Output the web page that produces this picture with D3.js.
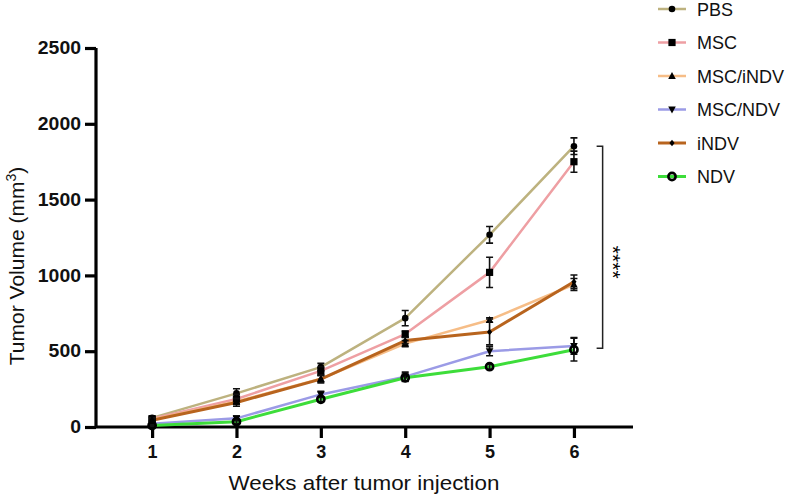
<!DOCTYPE html>
<html><head><meta charset="utf-8">
<script src="https://cdn.jsdelivr.net/npm/d3@7"></script>
<style>
html,body{margin:0;padding:0;background:#fff;}
svg{display:block;font-family:"Liberation Sans",Arial,sans-serif;}
</style></head>
<body><svg id="chart" width="787" height="496"></svg>
<script>
const weeks = [1, 2, 3, 4, 5, 6];
const groups = ["PBS", "MSC", "MSC/iNDV", "MSC/NDV", "iNDV", "NDV"];
const pbs      = [60, 222, 395, 718, 1268, 1852];
const msc      = [55, 185, 370, 613, 1020, 1750];
const mscIndv  = [50, 168, 318, 550, 706, 940];
const mscNdv   = [22, 57, 215, 332, 500, 535];
const indv     = [45, 162, 316, 570, 627, 958];
const ndv      = [10, 35, 183, 325, 398, 510];
const pbsErr     = [10, 30, 25, 50, 55, 55];
const mscErr     = [10, 30, 25, 20, 100, 70];
const mscIndvErr = [10, 20, 20, 20, 15, 40];
const mscNdvErr  = [8, 15, 20, 30, 30, 55];
const indvErr    = [8, 25, 25, 20, 85, 45];
const ndvErr     = [5, 12, 15, 25, 15, 75];
const yTicks = [0, 500, 1000, 1500, 2000, 2500];
const seriesValues = [pbs, msc, mscIndv, mscNdv, indv, ndv];
const seriesErrors = [pbsErr, mscErr, mscIndvErr, mscNdvErr, indvErr, ndvErr];
const colors = ["#bdb27f", "#ee9fa3", "#f6bd87", "#9b9be6", "#b8641e", "#3ddd3a"];
const widths = [2.5, 2.5, 2.5, 2.5, 3, 3];
const symbols = ["circle", "square", "up", "down", "diamond", "ring"];
const bracket = {top: 1852, bottom: 520, label: "****"};

const svg = d3.select("#chart");
const x = d3.scaleLinear().domain([0.335, 6.7]).range([96, 633]);
const y = d3.scaleLinear().domain([0, 2500]).range([427, 48]);

// axes
const yAxis = svg.append("g").attr("transform", "translate(96,0)")
  .call(d3.axisLeft(y).tickValues(yTicks).tickSize(11).tickPadding(4).tickFormat(d3.format("d")));
const xAxis = svg.append("g").attr("transform", "translate(0,427)")
  .call(d3.axisBottom(x).tickValues(weeks).tickSize(11).tickPadding(7).tickFormat(d3.format("d")));
[yAxis, xAxis].forEach(g => {
  g.select(".domain").attr("stroke", "#000").attr("stroke-width", 3.2);
  g.selectAll(".tick line").attr("stroke", "#000").attr("stroke-width", 3.2);
  g.selectAll(".tick text").attr("fill", "#111").style("font-size", "18px").style("font-weight", "bold")
    .style("font-family", "'Liberation Sans',Arial,sans-serif");
});
yAxis.selectAll(".tick text").attr("textLength", d => String(d).length * 10.8).attr("lengthAdjust", "spacingAndGlyphs");
xAxis.select(".domain").attr("d", `M${x.range()[0]},0H${x.range()[1]}`);
yAxis.select(".domain").attr("d", `M0,${y.range()[0]}V${y.range()[1]}`);

// axis titles
svg.append("text").attr("x", 364).attr("y", 490).attr("text-anchor", "middle")
  .attr("textLength", 271).attr("lengthAdjust", "spacingAndGlyphs")
  .style("font-size", "21px").attr("fill", "#111").text("Weeks after tumor injection");
const yt = svg.append("text").attr("transform", "translate(24,266) rotate(-90)")
  .attr("text-anchor", "middle").style("font-size", "21px").attr("fill", "#111");
yt.append("tspan").text("Tumor Volume (mm");
yt.append("tspan").attr("dy", -8).style("font-size", "14px").text("3");
yt.append("tspan").attr("dy", 8).text(")");

function drawMarker(g, sym, cx, cy) {
  if (sym === "circle") g.append("circle").attr("cx", cx).attr("cy", cy).attr("r", 3.3).attr("fill", "#000");
  else if (sym === "square") g.append("rect").attr("x", cx - 3.6).attr("y", cy - 3.6).attr("width", 7.2).attr("height", 7.2).attr("fill", "#000");
  else if (sym === "up") g.append("path").attr("d", `M${cx},${cy-4}L${cx+3.8},${cy+3}L${cx-3.8},${cy+3}Z`).attr("fill", "#000");
  else if (sym === "down") g.append("path").attr("d", `M${cx},${cy+4}L${cx+3.8},${cy-3}L${cx-3.8},${cy-3}Z`).attr("fill", "#000");
  else if (sym === "diamond") g.append("path").attr("d", `M${cx},${cy-3.2}L${cx+2.6},${cy}L${cx},${cy+3.2}L${cx-2.6},${cy}Z`).attr("fill", "#000");
  else if (sym === "ring") g.append("circle").attr("cx", cx).attr("cy", cy).attr("r", 3.6).attr("fill", "none").attr("stroke", "#000").attr("stroke-width", 2.6);
}

const line = d3.line().x((d, i) => x(weeks[i])).y(d => y(d));
const plot = svg.append("g");
seriesValues.forEach((vals, k) => {
  plot.append("path").datum(vals).attr("d", line).attr("fill", "none")
    .attr("stroke", colors[k]).attr("stroke-width", widths[k]).attr("stroke-linejoin", "round");
});
seriesValues.forEach((vals, k) => {
  const g = plot.append("g");
  vals.forEach((v, i) => {
    const e = seriesErrors[k][i];
    const cx = x(weeks[i]);
    g.append("path").attr("d", `M${cx},${y(v+e)}V${y(v-e)}M${cx-3.5},${y(v+e)}H${cx+3.5}M${cx-3.5},${y(v-e)}H${cx+3.5}`)
      .attr("stroke", "#111").attr("stroke-width", 1.6).attr("fill", "none");
    drawMarker(g, symbols[k], cx, y(v));
  });
});

// significance bracket
const bx = x(weeks[5] + 0.34);
svg.append("path").attr("d", `M${bx-6},${y(bracket.top)}H${bx}V${y(bracket.bottom)}H${bx-6}`)
  .attr("fill", "none").attr("stroke", "#222").attr("stroke-width", 1.5);
svg.append("text").attr("transform", `translate(${bx+3},${(y(bracket.top)+y(bracket.bottom))/2 + 15}) rotate(90)`)
  .attr("text-anchor", "middle").style("font-size", "21px").attr("fill", "#000").text(bracket.label);

// legend
const leg = svg.append("g");
groups.forEach((name, k) => {
  const ly = 9 + k * 33.5;
  leg.append("line").attr("x1", 658).attr("x2", 686).attr("y1", ly).attr("y2", ly)
    .attr("stroke", colors[k]).attr("stroke-width", widths[k]);
  drawMarker(leg, symbols[k], 672, ly);
  leg.append("text").attr("x", 697).attr("y", ly + 6.5).style("font-size", "18px").attr("fill", "#111").text(name);
});
</script></body></html>
